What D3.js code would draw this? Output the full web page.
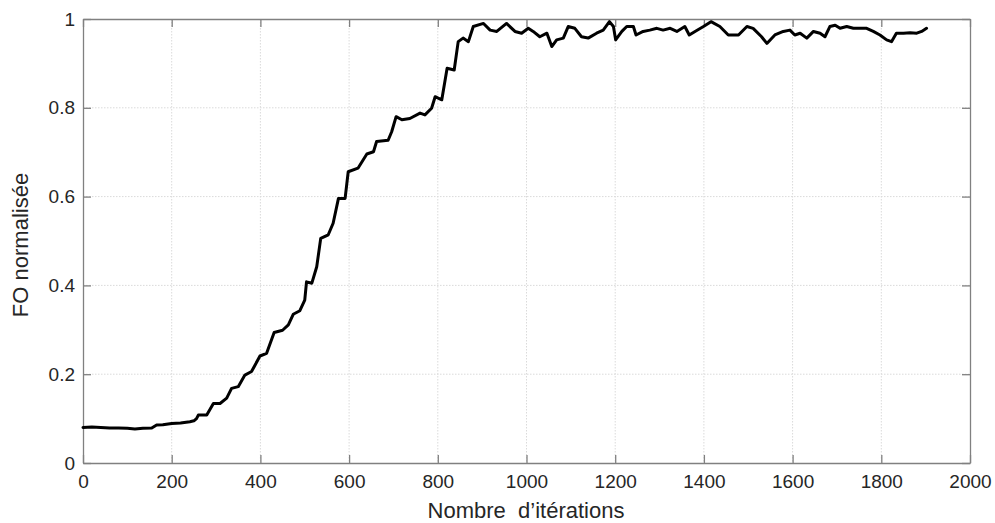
<!DOCTYPE html>
<html>
<head>
<meta charset="utf-8">
<script src="https://cdn.jsdelivr.net/npm/d3@7"></script>
<style>
  html, body { margin: 0; padding: 0; background: #fff; }
  svg { display: block; font-family: Arial, "Liberation Sans", sans-serif; }
</style>
</head>
<body>
<svg id="chart" width="995" height="523"></svg>
<script>
// ---- data ----
const iterations = [0,20,40,60,80,100,117,135,155,166,180,200,220,241,250,256,260,279,294,309,324,335,350,365,380,399,414,431,450,463,474,489,500,504,516,527,536,553,564,576,591,598,620,640,655,662,688,696,706,719,737,760,771,786,794,809,821,837,846,857,869,880,903,918,933,955,974,989,1004,1015,1030,1046,1057,1068,1083,1094,1109,1124,1139,1158,1173,1187,1196,1201,1215,1226,1241,1247,1263,1278,1294,1308,1324,1339,1357,1367,1380,1399,1416,1436,1455,1478,1497,1511,1530,1542,1560,1579,1594,1605,1617,1632,1647,1662,1673,1684,1696,1707,1722,1737,1752,1767,1782,1797,1812,1823,1834,1850,1865,1880,1891,1902];
const foValues = [0.080,0.081,0.080,0.079,0.079,0.078,0.0766,0.078,0.079,0.0856,0.086,0.089,0.090,0.093,0.095,0.100,0.108,0.108,0.134,0.134,0.146,0.168,0.172,0.198,0.206,0.241,0.247,0.294,0.299,0.311,0.335,0.343,0.367,0.408,0.405,0.442,0.506,0.514,0.540,0.596,0.596,0.656,0.664,0.696,0.701,0.724,0.727,0.746,0.780,0.773,0.776,0.788,0.784,0.799,0.825,0.818,0.889,0.885,0.949,0.957,0.949,0.983,0.990,0.975,0.972,0.990,0.972,0.968,0.979,0.972,0.960,0.968,0.938,0.953,0.957,0.983,0.979,0.960,0.957,0.968,0.975,0.994,0.983,0.953,0.972,0.983,0.983,0.964,0.972,0.975,0.979,0.975,0.979,0.972,0.983,0.964,0.972,0.983,0.994,0.983,0.964,0.964,0.983,0.979,0.960,0.945,0.964,0.972,0.975,0.964,0.968,0.957,0.972,0.968,0.960,0.983,0.986,0.979,0.983,0.979,0.979,0.979,0.972,0.964,0.953,0.949,0.968,0.968,0.969,0.968,0.972,0.979];
const xTicks = [0,200,400,600,800,1000,1200,1400,1600,1800,2000];
const yTicks = [0,0.2,0.4,0.6,0.8,1];
const yTickLabels = ["0","0.2","0.4","0.6","0.8","1"];
const xTitle = "Nombre  d\u2019itérations";
const yTitle = "FO normalisée";

// ---- layout ----
const svg = d3.select("#chart");
const m = {left: 83, top: 19, right: 25, bottom: 60};
const W = 995 - m.left - m.right;   // 887
const H = 523 - m.top - m.bottom;   // 444
const g = svg.append("g").attr("transform", `translate(${m.left},${m.top})`);

const x = d3.scaleLinear().domain([0, 2000]).range([0, W]);
const y = d3.scaleLinear().domain([0, 1]).range([H, 0]);

const axisColor = "#808080";
const textColor = "#262626";

// grid
g.append("g").selectAll("line").data(xTicks.slice(1, -1)).join("line")
  .attr("x1", d => x(d)).attr("x2", d => x(d)).attr("y1", 0).attr("y2", H)
  .attr("stroke", "#dadada").attr("stroke-width", 1).attr("stroke-dasharray", "1.5,1.5");
g.append("g").selectAll("line").data(yTicks.slice(1, -1)).join("line")
  .attr("y1", d => y(d)).attr("y2", d => y(d)).attr("x1", 0).attr("x2", W)
  .attr("stroke", "#dadada").attr("stroke-width", 1).attr("stroke-dasharray", "1.5,1.5");

// axes (ticks inward)
const axBottom = g.append("g").attr("transform", `translate(0,${H})`)
  .call(d3.axisBottom(x).tickValues(xTicks).tickSizeInner(-8).tickSizeOuter(0).tickPadding(12).tickFormat(d3.format("d")));
const axLeft = g.append("g")
  .call(d3.axisLeft(y).tickValues(yTicks).tickSizeInner(-8).tickSizeOuter(0).tickPadding(8).tickFormat((d, i) => yTickLabels[i]));
const axTop = g.append("g")
  .call(d3.axisTop(x).tickValues(xTicks).tickSizeInner(-8).tickSizeOuter(0).tickFormat(""));
const axRight = g.append("g").attr("transform", `translate(${W},0)`)
  .call(d3.axisRight(y).tickValues(yTicks).tickSizeInner(-8).tickSizeOuter(0).tickFormat(""));

[axBottom, axLeft, axTop, axRight].forEach(a => {
  a.select(".domain").attr("stroke", axisColor).attr("stroke-width", 1.3);
  a.selectAll(".tick line").attr("stroke", axisColor).attr("stroke-width", 1.3);
  a.selectAll(".tick text").attr("fill", textColor).attr("font-size", "19px")
    .attr("font-family", "Arial, 'Liberation Sans', sans-serif");
});

// line
const data = iterations.map((d, i) => ({it: d, v: foValues[i]}));
g.append("path").datum(data)
  .attr("fill", "none").attr("stroke", "#000").attr("stroke-width", 3)
  .attr("stroke-linejoin", "round").attr("stroke-linecap", "round")
  .attr("d", d3.line().x(d => x(d.it)).y(d => y(d.v)).curve(d3.curveLinear));

// titles
svg.append("text").attr("x", 526).attr("y", 518)
  .attr("text-anchor", "middle").attr("fill", textColor).attr("font-size", "22px")
  .style("white-space", "pre").text(xTitle);
svg.append("text").attr("transform", `translate(28,245) rotate(-90)`)
  .attr("text-anchor", "middle").attr("fill", textColor).attr("font-size", "22px")
  .text(yTitle);
</script>
</body>
</html>
